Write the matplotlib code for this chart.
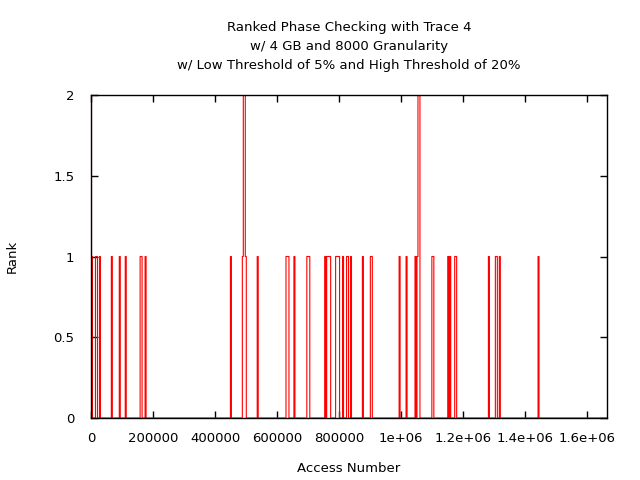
import matplotlib
matplotlib.use('Agg')
import matplotlib.pyplot as plt
import numpy as np

# rank samples are taken every 3200 accesses, rank is 0 except at these samples
step = 3200
last_access = 1664000

spike_access = [0, 3200, 16000, 19200, 28800, 67200, 92800, 112000, 160000, 163200,
                176000, 451200, 489600, 492800, 496000, 499200, 537600, 630400, 633600,
                636800, 656000, 697600, 700800, 704000, 755200, 761600, 764800, 768000,
                771200, 790400, 793600, 796800, 800000, 812800, 825600, 828800, 838400,
                876800, 902400, 905600, 995200, 1017600, 1046400, 1052800, 1056000,
                1059200, 1100800, 1104000, 1152000, 1158400, 1174400, 1177600, 1283200,
                1305600, 1308800, 1318400, 1443200]
spike_rank = [2, 1, 1, 1, 1, 1, 1, 1, 1, 1,
              1, 1, 1, 2, 2, 1, 1, 1, 1,
              1, 1, 1, 1, 1, 1, 1, 1, 1,
              1, 1, 1, 1, 1, 1, 1, 1, 1,
              1, 1, 1, 1, 1, 1, 1, 2,
              2, 1, 1, 1, 1, 1, 1, 1,
              1, 1, 1, 1]

x_ticks = [0, 200000, 400000, 600000, 800000, 1000000, 1200000, 1400000, 1600000]
x_tick_labels = ['0', '200000', '400000', '600000', '800000', '1e+06', '1.2e+06',
                 '1.4e+06', '1.6e+06']
y_ticks = [0, 0.5, 1, 1.5, 2]
y_tick_labels = ['0', '0.5', '1', '1.5', '2']

# build the full series
access = np.arange(0, last_access + step, step)
rank = np.zeros(len(access))
for a, r in zip(spike_access, spike_rank):
    rank[int(round(a / step))] = r

fig = plt.figure(figsize=(6.4, 4.8), dpi=100)
ax = fig.add_axes([91 / 640, 1 - 418 / 480, (607 - 91) / 640, (418 - 95) / 480])

ax.plot(access, rank, color='red', linewidth=0.8, drawstyle='steps-mid')

ax.set_xlim(0, last_access)
ax.set_ylim(0, 2)
ax.set_xticks(x_ticks)
ax.set_xticklabels(x_tick_labels)
ax.set_yticks(y_ticks)
ax.set_yticklabels(y_tick_labels)
ax.tick_params(direction='in', length=5, width=1, top=True, right=True,
               labelsize=9.5)
ax.tick_params(axis='x', pad=10)
ax.tick_params(axis='y', pad=12)
for s in ax.spines.values():
    s.set_linewidth(1)

ax.set_xlabel('Access Number', fontsize=9.5, labelpad=12)
ax.set_ylabel('Rank', fontsize=9.5, labelpad=25)
ax.set_title('Ranked Phase Checking with Trace 4\nw/ 4 GB and 8000 Granularity\n'
             'w/ Low Threshold of 5% and High Threshold of 20%',
             fontsize=9.5, pad=19, linespacing=1.6)

fig.savefig('out.png', dpi=100)
